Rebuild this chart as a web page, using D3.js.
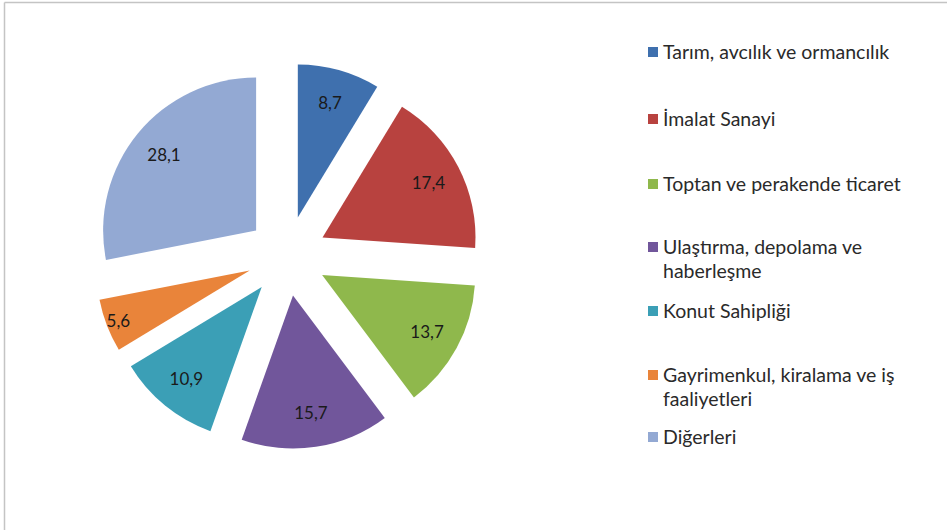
<!DOCTYPE html>
<html>
<head>
<meta charset="utf-8">
<script src="https://cdn.jsdelivr.net/npm/d3@7"></script>
<style>
  body { margin: 0; background: #fff; }
  svg { display: block; font-family: Lato, "Open Sans", sans-serif; }
</style>
</head>
<body>
<svg width="947" height="530"></svg>
<script>
// sectors and their shares (%)
let categories = [
  "Tarım, avcılık ve ormancılık",
  "İmalat Sanayi",
  "Toptan ve perakende ticaret",
  "Ulaştırma, depolama ve haberleşme",
  "Konut Sahipliği",
  "Gayrimenkul, kiralama ve iş faaliyetleri",
  "Diğerleri"
];
let values = [8.7, 17.4, 13.7, 15.7, 10.9, 5.6, 28.1];
let valueLabels = ["8,7", "17,4", "13,7", "15,7", "10,9", "5,6", "28,1"];
// legend text split into lines
let legendLines = [
  ["Tarım, avcılık ve ormancılık"],
  ["İmalat Sanayi"],
  ["Toptan ve perakende ticaret"],
  ["Ulaştırma, depolama ve", "haberleşme"],
  ["Konut Sahipliği"],
  ["Gayrimenkul, kiralama ve iş", "faaliyetleri"],
  ["Diğerleri"]
];
let colors = ["#3f70ae", "#b8423f", "#8fb84c", "#71569b", "#3b9fb6", "#e9843a", "#93a9d3"];

let svgWidth = 947, svgHeight = 530;
let cx = 287, cy = 256, radius = 153, explode = 40;

let svg = d3.select('svg');

// frame (only top and left edges show)
svg.append('line').attr('x1', 4.5).attr('y1', 2.5).attr('x2', svgWidth).attr('y2', 2.5)
   .attr('stroke', '#c4c4c4').attr('stroke-width', 1.5);
svg.append('line').attr('x1', 4.5).attr('y1', 2.5).attr('x2', 4.5).attr('y2', svgHeight)
   .attr('stroke', '#c4c4c4').attr('stroke-width', 1.5);

let pie = d3.pie().sort(null).value((d) => d.value);
let arc = d3.arc().innerRadius(0).outerRadius(radius);

let data = categories.map((c, i) => ({ name: c, value: values[i], label: valueLabels[i] }));
let arcs = pie(data);

let offset = (d) => {
  let a = (d.startAngle + d.endAngle) / 2;
  return [Math.sin(a) * explode, -Math.cos(a) * explode];
};

let g = svg.append('g').attr('transform', 'translate(' + cx + ',' + cy + ')');

let slices = g.selectAll('g.slice')
  .data(arcs)
  .enter()
  .append('g')
  .attr('class', 'slice')
  .attr('transform', (d) => 'translate(' + offset(d) + ')');

slices.append('path')
  .attr('d', arc)
  .attr('fill', (d, i) => colors[i]);

// thin slices get their label pushed further out, as the spreadsheet did
let labelR = (d) => radius * ((d.endAngle - d.startAngle) < 0.4 ? 0.92 : 0.78);

slices.append('text')
  .attr('transform', (d) => {
    let a = (d.startAngle + d.endAngle) / 2, r = labelR(d);
    return 'translate(' + [Math.sin(a) * r, -Math.cos(a) * r] + ')';
  })
  .attr('text-anchor', 'middle')
  .attr('dy', '0.35em')
  .attr('font-size', 17)
  .attr('fill', '#1a1a1a')
  .text((d) => d.data.label);

// legend
let legendY = [52, 119, 184, 247, 311, 375, 437];
let legend = svg.selectAll('g.legend')
  .data(legendLines)
  .enter()
  .append('g')
  .attr('class', 'legend')
  .attr('transform', (d, i) => 'translate(648,' + legendY[i] + ')');

legend.append('rect')
  .attr('x', 0).attr('y', -5)
  .attr('width', 10).attr('height', 10)
  .attr('fill', (d, i) => colors[i]);

legend.each(function (lines) {
  let t = d3.select(this).append('text')
    .attr('x', 15)
    .attr('y', 0)
    .attr('font-size', 19.5)
    .attr('fill', '#2a2a2a');
  lines.forEach((line, j) => {
    t.append('tspan')
      .attr('x', 15)
      .attr('dy', j === 0 ? '0.35em' : 24)
      .text(line);
  });
});
</script>
</body>
</html>
